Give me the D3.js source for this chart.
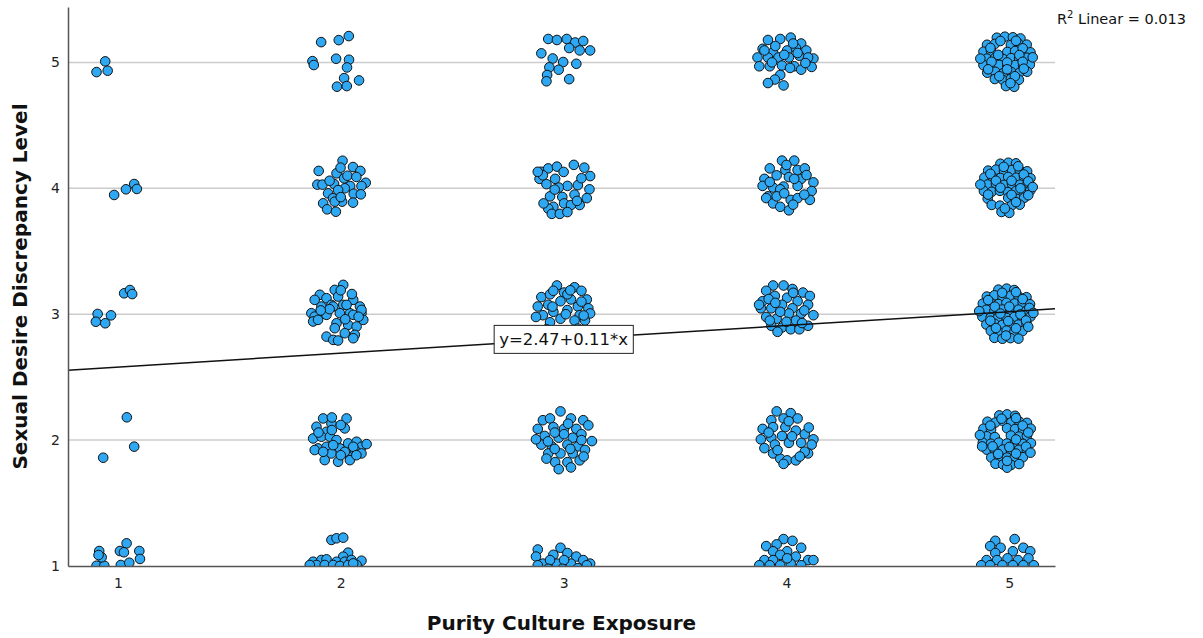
<!DOCTYPE html>
<html>
<head>
<meta charset="utf-8">
<script src="https://cdn.jsdelivr.net/npm/d3@7"></script>
<style>
  body { margin: 0; background: #fff; }
  svg { display: block; font-family: 'DejaVu Sans', sans-serif; }
</style>
</head>
<body>
<div id="chart"></div>
<script>
// axis ticks and fit
const xTicks = [1, 2, 3, 4, 5]
const yTicks = [1, 2, 3, 4, 5]
const gridLevels = [2, 3, 4, 5]
const intercept = 2.47
const slope = 0.11
const rSquared = 0.013

// jittered points, [exposure, discrepancy]
const exposure1 = [
  [0.904, 4.923], [0.943, 5.008], [0.954, 4.934],
  [0.983, 3.947], [1.036, 3.992], [1.073, 4.034], [1.085, 3.995],
  [0.909, 3.002], [0.969, 2.991], [1.028, 3.166], [1.054, 3.192], [1.064, 3.160], [0.901, 2.940], [0.943, 2.928],
  [1.040, 2.181], [0.934, 1.860], [1.073, 1.948],
  [0.916, 1.119], [1.039, 1.180], [1.009, 1.119], [1.027, 1.109], [1.096, 1.119], [1.099, 1.056],
  [0.904, 1.002], [0.939, 1.002], [0.927, 1.069], [1.013, 1.008], [1.051, 1.026], [0.913, 1.087]
]

const exposure2 = [
  [1.912, 5.161], [1.991, 5.177], [2.036, 5.209], [1.873, 5.010], [1.879, 4.979], [1.979, 5.029],
  [2.037, 5.021], [2.028, 4.960], [2.015, 4.875], [1.983, 4.807], [2.027, 4.812], [2.082, 4.857],
  [2.008, 4.219], [1.901, 4.138], [2.055, 4.169], [2.088, 4.138], [1.981, 4.119], [1.999, 4.164],
  [2.015, 4.079], [2.112, 4.044], [1.895, 4.029], [1.918, 4.029], [1.970, 4.034], [2.042, 4.018],
  [2.093, 4.018], [1.943, 3.960], [2.058, 3.957], [2.090, 3.952], [1.965, 3.921], [2.006, 3.894],
  [1.921, 3.881], [1.973, 3.894], [2.055, 3.886], [1.939, 3.833], [1.978, 3.814], [2.018, 4.000], [1.988, 3.986],
  [2.030, 4.100], [1.950, 4.060], [2.000, 3.930], [2.070, 4.090],
  [2.011, 3.233], [1.973, 3.193], [1.906, 3.154], [1.883, 3.114], [1.936, 3.127], [1.988, 3.140],
  [2.056, 3.114], [1.958, 3.074], [1.913, 3.061], [2.011, 3.074], [2.086, 3.061], [1.891, 2.995],
  [2.041, 3.008], [2.093, 3.008], [1.868, 3.008], [1.966, 3.061], [2.026, 3.074], [1.883, 2.981],
  [1.936, 2.995], [1.996, 3.008], [2.056, 2.995], [2.101, 2.955], [1.876, 2.942], [1.981, 2.928],
  [2.033, 2.915], [2.071, 2.902], [1.973, 2.889], [2.018, 2.849], [2.063, 2.836], [1.936, 2.822],
  [1.966, 2.796], [1.988, 2.791], [2.056, 2.809], [1.898, 2.955], [2.093, 3.034],
  [2.000, 3.190], [2.050, 3.160], [1.950, 3.040], [2.020, 2.960], [2.080, 2.980], [1.910, 3.030],
  [1.921, 2.172], [1.958, 2.133], [2.026, 2.172], [2.018, 2.093], [1.891, 2.106], [1.936, 2.066],
  [1.876, 2.013], [1.913, 2.027], [1.951, 2.027], [1.981, 2.000], [1.898, 1.934], [1.936, 1.947],
  [1.996, 1.934], [2.033, 1.974], [2.071, 1.987], [2.093, 1.947], [2.116, 1.968], [1.928, 1.841],
  [1.958, 1.894], [1.988, 1.828], [2.041, 1.868], [2.063, 1.921], [2.093, 1.894], [1.883, 1.921],
  [2.041, 1.841], [1.921, 1.907], [2.018, 1.907], [1.966, 1.960], [2.056, 1.947],
  [1.960, 2.180], [2.000, 2.120], [1.900, 2.060], [1.960, 2.080], [2.000, 1.880], [2.070, 1.880],
  [1.958, 1.207], [1.981, 1.220], [2.011, 1.225], [2.033, 1.106], [2.011, 1.074], [1.876, 1.034],
  [1.913, 1.048], [1.936, 1.053], [1.981, 1.034], [2.018, 1.034], [2.048, 1.048], [2.093, 1.042],
  [1.891, 1.008], [1.928, 1.008], [1.966, 1.008], [1.996, 1.000], [2.033, 1.008], [2.071, 1.008],
  [1.861, 1.008], [2.056, 1.021]
]

const exposure3 = [
  [2.931, 5.186], [2.970, 5.178], [3.014, 5.186], [3.052, 5.158], [3.088, 5.170], [3.025, 5.114],
  [3.072, 5.095], [3.119, 5.095], [2.900, 5.072], [2.951, 5.031], [2.998, 5.003], [3.057, 4.989],
  [2.936, 4.961], [2.978, 4.942], [2.926, 4.900], [2.923, 4.850], [3.025, 4.867],
  [2.900, 4.131], [2.931, 4.158], [2.970, 4.172], [3.046, 4.186], [3.093, 4.164], [3.119, 4.097],
  [2.892, 4.075], [2.923, 4.033], [2.962, 4.075], [3.017, 4.019], [3.064, 4.025], [3.116, 3.992],
  [2.939, 3.936], [2.994, 3.931], [3.049, 3.950], [3.104, 3.922], [2.954, 3.853], [3.002, 3.880],
  [3.072, 3.867], [2.931, 3.839], [3.033, 3.867], [2.947, 3.797], [2.983, 3.797], [3.017, 3.811],
  [2.907, 4.103], [2.978, 4.006], [2.884, 4.131],
  [3.000, 4.130], [3.080, 4.080], [2.960, 3.990], [3.060, 3.900], [2.910, 3.880],
  [2.970, 3.228], [3.049, 3.214], [3.080, 3.186], [2.900, 3.136], [2.939, 3.158], [3.002, 3.172],
  [3.104, 3.117], [2.884, 3.061], [2.931, 3.075], [2.986, 3.103], [3.033, 3.117], [3.064, 3.061],
  [3.111, 3.047], [2.907, 2.992], [2.954, 3.019], [3.017, 3.033], [3.072, 2.992], [2.876, 2.978],
  [2.986, 2.964], [3.049, 2.950], [2.939, 2.936], [3.096, 2.950], [2.923, 2.880], [2.970, 2.853],
  [3.017, 2.867], [3.064, 2.886], [2.954, 2.797], [3.002, 2.783], [3.049, 2.811], [3.119, 3.006],
  [2.954, 3.186], [3.017, 3.158],
  [3.030, 3.190], [3.080, 3.100], [2.950, 3.060], [3.010, 3.000], [3.090, 2.990],
  [2.986, 2.228], [2.907, 2.158], [2.939, 2.172], [3.033, 2.172], [3.088, 2.158], [2.884, 2.089],
  [2.954, 2.103], [3.002, 2.089], [3.057, 2.089], [3.111, 2.117], [2.915, 2.033], [2.978, 2.019],
  [3.041, 2.019], [3.080, 2.047], [3.127, 1.992], [2.900, 1.964], [2.947, 1.950], [3.017, 1.964],
  [3.064, 1.950], [2.931, 1.894], [2.986, 1.894], [3.041, 1.894], [3.096, 1.922], [2.962, 1.825],
  [3.017, 1.825], [3.072, 1.839], [2.978, 1.769], [3.033, 1.783], [2.923, 1.853], [2.876, 2.006],
  [3.002, 2.047],
  [3.020, 2.130], [2.960, 2.060], [3.080, 2.000], [2.930, 1.990], [3.030, 1.930], [3.090, 1.870], [2.960, 1.930],
  [2.884, 1.131], [2.876, 1.075], [2.986, 1.145], [2.954, 1.089], [3.017, 1.103], [3.057, 1.075],
  [3.088, 1.047], [3.119, 1.019], [2.907, 1.019], [2.970, 1.019], [3.033, 1.019], [2.939, 1.047],
  [3.002, 1.047], [2.884, 1.006], [3.104, 1.006], [2.931, 0.978], [2.994, 0.978], [3.064, 0.983]
]

const exposure4 = [
  [3.917, 5.178], [3.972, 5.186], [4.019, 5.197], [4.066, 5.150], [3.893, 5.108], [3.940, 5.081],
  [4.003, 5.095], [4.042, 5.114], [4.089, 5.095], [3.870, 5.039], [3.917, 5.039], [3.964, 5.039],
  [4.011, 5.039], [4.058, 5.053], [4.121, 5.031], [3.878, 4.969], [3.925, 4.969], [3.980, 4.975],
  [4.035, 4.969], [4.066, 4.942], [4.113, 4.964], [3.972, 4.900], [3.948, 4.864], [3.917, 4.836],
  [3.987, 4.817], [4.016, 4.956], [3.901, 5.095], [4.097, 5.039],
  [3.950, 5.130], [4.030, 5.150], [4.085, 4.995], [3.935, 5.000], [4.050, 5.075], [3.990, 5.060],
  [3.980, 4.220], [4.035, 4.220], [3.925, 4.158], [3.995, 4.145], [4.050, 4.145], [4.082, 4.158],
  [3.901, 4.075], [3.956, 4.103], [4.011, 4.089], [4.066, 4.075], [4.121, 4.047], [3.893, 4.019],
  [3.940, 4.006], [3.987, 4.014], [4.050, 4.019], [4.113, 3.978], [3.917, 3.936], [3.972, 3.992],
  [4.105, 3.908], [3.909, 3.922], [3.940, 3.880], [3.972, 3.853], [4.011, 3.825], [4.019, 3.908],
  [4.050, 3.922], [3.956, 3.936], [4.035, 4.075],
  [4.000, 4.185], [4.090, 4.105], [3.925, 4.050], [4.080, 3.950], [3.990, 3.960], [4.030, 3.870],
  [3.940, 3.228], [3.987, 3.228], [4.027, 3.200], [4.074, 3.172], [4.105, 3.145], [3.909, 3.186],
  [3.893, 3.103], [3.948, 3.145], [4.003, 3.131], [4.050, 3.103], [4.097, 3.075], [3.885, 3.047],
  [3.932, 3.047], [3.980, 3.075], [4.027, 3.047], [4.121, 2.992], [3.909, 2.978], [3.956, 2.964],
  [4.011, 3.006], [4.066, 3.006], [3.932, 2.908], [3.980, 2.894], [4.019, 2.880], [4.058, 2.880],
  [4.097, 2.908], [3.925, 2.950], [4.042, 2.950], [3.972, 3.019], [3.877, 3.075],
  [4.030, 3.170], [3.920, 3.120], [4.080, 3.030], [3.950, 3.090], [4.000, 2.940], [4.070, 2.930], [3.960, 2.860],
  [3.956, 2.228], [4.019, 2.214], [3.987, 2.172], [3.932, 2.158], [4.050, 2.172], [3.893, 2.089],
  [3.940, 2.103], [3.995, 2.103], [4.042, 2.075], [3.885, 2.006], [3.932, 2.019], [3.980, 2.033],
  [4.082, 2.047], [4.121, 2.006], [3.901, 1.936], [3.948, 1.964], [4.066, 1.978], [4.113, 1.964],
  [4.097, 1.894], [3.940, 1.894], [3.972, 1.853], [4.003, 1.839], [4.042, 1.839], [4.082, 1.908],
  [4.011, 1.978], [3.987, 1.811],
  [4.010, 2.150], [3.920, 2.060], [4.100, 2.100], [3.960, 1.920], [4.060, 1.870], [4.025, 2.030],
  [3.987, 1.214], [4.027, 1.200], [3.956, 1.172], [3.909, 1.158], [4.066, 1.145], [3.940, 1.117],
  [4.003, 1.117], [3.972, 1.089], [4.042, 1.075], [3.901, 1.047], [3.940, 1.047], [4.097, 1.047],
  [3.878, 1.006], [3.925, 1.006], [3.972, 1.006], [4.019, 1.019], [4.066, 1.006], [4.121, 1.047],
  [4.003, 1.061]
]

const exposure5 = [
  [4.944, 5.196], [4.980, 5.204], [5.016, 5.199], [5.050, 5.190],
  [4.900, 5.140], [4.935, 5.147], [5.007, 5.138], [5.043, 5.146], [5.078, 5.141],
  [4.884, 5.085], [4.918, 5.092], [4.991, 5.083], [5.026, 5.090], [5.062, 5.084], [5.095, 5.080],
  [4.900, 5.030], [4.936, 5.036], [4.972, 5.027], [5.008, 5.034], [5.044, 5.029], [5.080, 5.037],
  [4.884, 4.978], [4.919, 4.972], [4.955, 4.980], [4.991, 4.970], [5.027, 4.979], [5.062, 4.973], [5.092, 4.982],
  [4.901, 4.918], [4.937, 4.925], [4.973, 4.915], [5.009, 4.923], [5.045, 4.917], [5.080, 4.926],
  [4.935, 4.868], [4.971, 4.861], [5.007, 4.870], [5.043, 4.862],
  [4.985, 4.812], [5.022, 4.806],
  [4.960, 5.170], [5.030, 5.172], [4.915, 5.115], [5.060, 5.112], [4.950, 5.060], [5.045, 5.058],
  [4.870, 5.030], [5.105, 5.040], [4.920, 5.005], [4.990, 5.000], [5.060, 5.005], [4.905, 4.945],
  [4.990, 4.945], [5.065, 4.950], [4.955, 4.890], [5.025, 4.890], [5.005, 4.835],
  [4.960, 4.195], [4.996, 4.203], [5.030, 4.198],
  [4.905, 4.140], [4.940, 4.148], [4.976, 4.137], [5.012, 4.146], [5.047, 4.141], [5.080, 4.135],
  [4.888, 4.085], [4.923, 4.091], [4.960, 4.082], [4.995, 4.090], [5.031, 4.084], [5.066, 4.092], [5.095, 4.080],
  [4.903, 4.030], [4.940, 4.036], [4.976, 4.027], [5.012, 4.034], [5.048, 4.029], [5.082, 4.037],
  [4.886, 3.978], [4.921, 3.972], [4.958, 3.980], [4.994, 3.970], [5.030, 3.979], [5.066, 3.973], [5.094, 3.982],
  [4.903, 3.918], [4.995, 3.924], [5.031, 3.917], [5.067, 3.925],
  [4.921, 3.868], [4.958, 3.862], [5.012, 3.866], [5.047, 3.870],
  [4.965, 3.812], [5.000, 3.805],
  [4.975, 4.170], [5.040, 4.175], [4.915, 4.115], [5.065, 4.110], [4.940, 4.060], [5.010, 4.060],
  [5.085, 4.055], [4.870, 4.030], [4.960, 4.005], [5.050, 4.000], [4.905, 3.950], [5.010, 3.948],
  [5.085, 3.945], [5.030, 3.890], [4.980, 3.840], [5.105, 4.010],
  [4.951, 3.195], [4.988, 3.203], [5.022, 3.192],
  [4.899, 3.140], [4.933, 3.150], [4.970, 3.138], [5.006, 3.147], [5.041, 3.141], [5.077, 3.135],
  [4.881, 3.084], [4.915, 3.092], [4.951, 3.081], [4.987, 3.090], [5.024, 3.085], [5.060, 3.093], [5.093, 3.079],
  [4.897, 3.035], [4.933, 3.027], [4.969, 3.037], [5.005, 3.030], [5.041, 3.036], [5.077, 3.028],
  [4.879, 2.980], [4.916, 2.972], [4.951, 2.979], [4.988, 2.970], [5.023, 2.978], [5.059, 2.974], [5.095, 2.981],
  [4.897, 2.918], [4.933, 2.925], [4.969, 2.915], [5.005, 2.923], [5.041, 2.917], [5.077, 2.926],
  [4.917, 2.868], [4.951, 2.861], [4.988, 2.870], [5.023, 2.862], [5.059, 2.866],
  [4.933, 2.812], [4.969, 2.805], [5.005, 2.810], [5.041, 2.806],
  [4.968, 3.170], [5.030, 3.175], [4.905, 3.112], [5.060, 3.120], [4.935, 3.060], [5.000, 3.060],
  [5.090, 3.050], [4.865, 3.025], [4.960, 3.005], [5.050, 2.998], [5.108, 3.010], [4.915, 2.948],
  [4.995, 2.945], [5.075, 2.950], [4.940, 2.890], [5.030, 2.888], [5.085, 2.900], [4.985, 2.830],
  [4.955, 2.196], [4.990, 2.204], [5.026, 2.193],
  [4.902, 2.146], [4.937, 2.139], [4.973, 2.150], [5.009, 2.141], [5.044, 2.148], [5.079, 2.137],
  [4.884, 2.090], [4.918, 2.083], [4.990, 2.094], [5.026, 2.088], [5.062, 2.080], [5.096, 2.091],
  [4.899, 2.030], [4.935, 2.024], [5.007, 2.036], [5.043, 2.028], [5.079, 2.035],
  [4.881, 1.979], [4.917, 1.971], [4.953, 1.980], [4.989, 1.973], [5.025, 1.981], [5.061, 1.970], [5.097, 1.976],
  [4.899, 1.924], [4.935, 1.917], [4.971, 1.925], [5.007, 1.918], [5.043, 1.923], [5.079, 1.916],
  [4.919, 1.862], [4.953, 1.869], [4.990, 1.861], [5.025, 1.868], [5.061, 1.864],
  [4.938, 1.812], [4.972, 1.806], [5.008, 1.803], [5.044, 1.810], [4.990, 1.781],
  [4.965, 2.170], [5.030, 2.175], [4.915, 2.115], [5.060, 2.115], [5.085, 2.060], [4.868, 2.040],
  [5.030, 2.005], [4.925, 1.950], [5.000, 1.945], [5.075, 1.948], [4.950, 1.890], [5.030, 1.893],
  [5.095, 1.900], [4.990, 1.835], [4.878, 1.950],
  [4.937, 1.200], [5.024, 1.214], [4.914, 1.158], [4.961, 1.145], [5.063, 1.145], [4.937, 1.103],
  [5.016, 1.117], [5.094, 1.117], [4.898, 1.047], [4.945, 1.047], [4.992, 1.061], [5.039, 1.047],
  [5.086, 1.061], [4.874, 1.006], [4.914, 1.006], [4.969, 1.006], [5.016, 1.006], [5.063, 1.006],
  [5.110, 1.006]
]

const points = [...exposure1, ...exposure2, ...exposure3, ...exposure4, ...exposure5]

const width = 1203
const height = 638
const plot = { left: 68, right: 1055, top: 7, bottom: 566 }

const svg = d3.select('#chart')
  .append('svg')
  .attr('width', width)
  .attr('height', height)

svg.append('rect').attr('width', width).attr('height', height).attr('fill', '#fff')

const xScale = d3.scaleLinear()
  .domain([0.776, 5.205])
  .range([plot.left, plot.right])
const yScale = d3.scaleLinear()
  .domain([1, 5.44])
  .range([plot.bottom, plot.top])

svg.append('clipPath')
  .attr('id', 'plot-clip')
  .append('rect')
  .attr('x', plot.left)
  .attr('y', plot.top)
  .attr('width', plot.right - plot.left)
  .attr('height', plot.bottom - plot.top)

// grid lines
svg.append('g')
  .selectAll('line')
  .data(gridLevels)
  .join('line')
  .attr('x1', plot.left)
  .attr('x2', plot.right)
  .attr('y1', d => yScale(d))
  .attr('y2', d => yScale(d))
  .attr('stroke', '#cccccc')
  .attr('stroke-width', 1.5)

// points
svg.append('g')
  .attr('clip-path', 'url(#plot-clip)')
  .selectAll('circle')
  .data(points)
  .join('circle')
  .attr('cx', d => xScale(d[0]))
  .attr('cy', d => yScale(d[1]))
  .attr('r', 4.8)
  .attr('fill', '#2ea8f2')
  .attr('stroke', '#111')
  .attr('stroke-width', 1)

// fit line
const [x0, x1] = xScale.domain()
svg.append('line')
  .attr('x1', xScale(x0))
  .attr('y1', yScale(intercept + slope * x0))
  .attr('x2', xScale(x1))
  .attr('y2', yScale(intercept + slope * x1))
  .attr('stroke', '#111')
  .attr('stroke-width', 1.5)

// equation label, centred on the line at x = 3
const labelX = 3
const label = svg.append('g')
  .attr('transform', `translate(${xScale(labelX)}, ${yScale(intercept + slope * labelX)})`)
const labelText = label.append('text')
  .attr('text-anchor', 'middle')
  .attr('dy', '0.36em')
  .attr('font-size', 16.5)
  .attr('fill', '#111')
  .text(`y=${intercept}+${slope}*x`)
const bb = labelText.node().getBBox()
label.insert('rect', 'text')
  .attr('x', bb.x - 5)
  .attr('y', -14)
  .attr('width', bb.width + 10)
  .attr('height', 28)
  .attr('fill', '#fff')
  .attr('stroke', '#222')
  .attr('stroke-width', 1)

// axes
const yAxis = d3.axisLeft(yScale).tickValues(yTicks).tickSize(0).tickPadding(8).tickFormat(d3.format('d'))
const xAxis = d3.axisBottom(xScale).tickValues(xTicks).tickSize(0).tickPadding(12).tickFormat(d3.format('d'))

const gy = svg.append('g')
  .attr('transform', `translate(${plot.left}, 0)`)
  .call(yAxis)
const gx = svg.append('g')
  .attr('transform', `translate(0, ${plot.bottom})`)
  .call(xAxis)

for (const g of [gx, gy]) {
  g.select('.domain').attr('stroke', '#555').attr('stroke-width', 1.5)
  g.selectAll('text')
    .attr('font-family', "'DejaVu Sans', sans-serif")
    .attr('font-size', 14)
    .attr('fill', '#222')
}

// axis titles
svg.append('text')
  .attr('x', (plot.left + plot.right) / 2)
  .attr('y', 630)
  .attr('text-anchor', 'middle')
  .attr('font-size', 20)
  .attr('font-weight', 'bold')
  .attr('fill', '#111')
  .text('Purity Culture Exposure')

svg.append('text')
  .attr('transform', `translate(27, ${(plot.top + plot.bottom) / 2}) rotate(-90)`)
  .attr('text-anchor', 'middle')
  .attr('font-size', 20)
  .attr('font-weight', 'bold')
  .attr('fill', '#111')
  .text('Sexual Desire Discrepancy Level')

// R squared note
const r2 = svg.append('text')
  .attr('x', 1057)
  .attr('y', 24)
  .attr('font-size', 14.5)
  .attr('fill', '#111')
r2.append('tspan').text('R')
r2.append('tspan').attr('font-size', 10).attr('dy', -6).text('2')
r2.append('tspan').attr('dy', 6).text(` Linear = ${rSquared}`)
</script>
</body>
</html>
